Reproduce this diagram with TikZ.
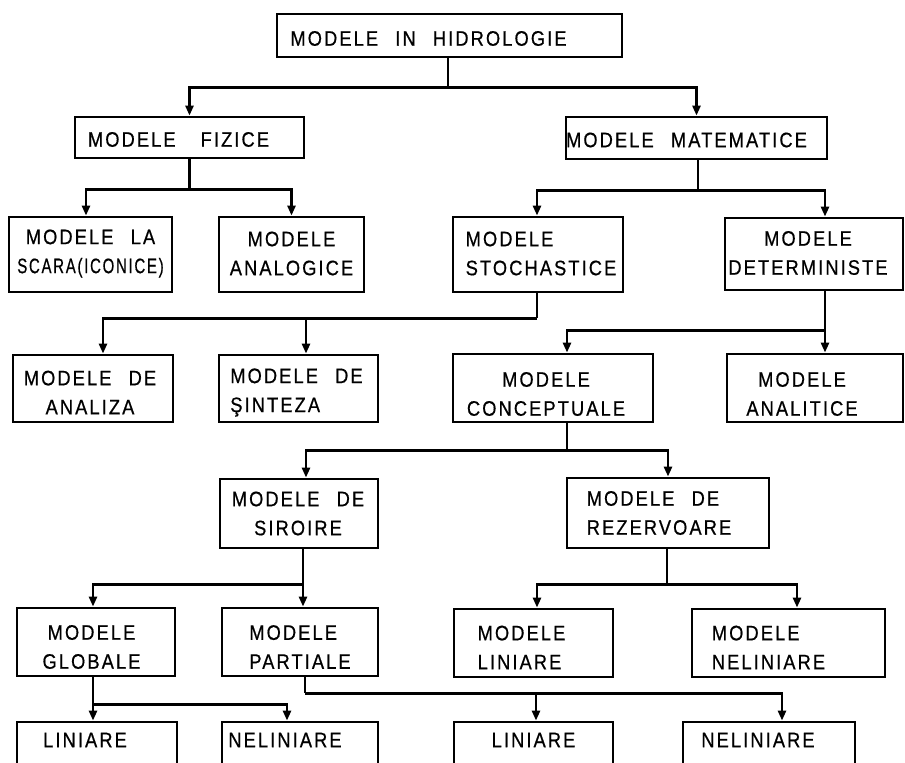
\documentclass[tikz,border=0pt]{standalone}
\usepackage{fontspec}
\setmainfont[WordSpace=2.4,FakeBold=0.6,FakeStretch=0.87,LetterSpace=10]{Liberation Sans}
\usetikzlibrary{arrows.meta,calc}
\tikzset{
  boxnode/.style={draw, line width=2.8pt, inner sep=0pt},
  lbl/.style={font=\fontsize{21}{29}\selectfont, align=center, inner sep=0pt},
  wire/.style={line width=2.8pt},
  arr/.style={wire, -{Triangle[length=10pt,width=8pt]}},
}
\begin{document}
\begin{tikzpicture}[x=1pt,y=-1pt]
\path[use as bounding box, clip] (0,0) rectangle (905,763);
\fill[white] (0,0) rectangle (905,763);

% boxes
\node[boxnode, minimum width=345pt, minimum height=43pt] (hid) at (449.5,35.5) {};
\node[boxnode, minimum width=229pt, minimum height=41pt] (fiz) at (189.5,137.5) {};
\node[boxnode, minimum width=261pt, minimum height=42pt] (mat) at (696.5,138) {};
\node[boxnode, minimum width=163pt, minimum height=75pt] (sca) at (90.5,254.5) {};
\node[boxnode, minimum width=145pt, minimum height=75pt] (ana) at (291.5,254.5) {};
\node[boxnode, minimum width=170pt, minimum height=75pt] (sto) at (538,254.5) {};
\node[boxnode, minimum width=178pt, minimum height=72pt] (det) at (814,254) {};
\node[boxnode, minimum width=160pt, minimum height=67pt] (anz) at (93,388.5) {};
\node[boxnode, minimum width=159pt, minimum height=67pt] (sin) at (298.5,388.5) {};
\node[boxnode, minimum width=200pt, minimum height=68pt] (con) at (553,388) {};
\node[boxnode, minimum width=176pt, minimum height=68pt] (anl) at (815,388) {};
\node[boxnode, minimum width=158pt, minimum height=69pt] (sir) at (299,513.5) {};
\node[boxnode, minimum width=202pt, minimum height=70pt] (rez) at (668,513) {};
\node[boxnode, minimum width=158pt, minimum height=68pt] (glo) at (96,642) {};
\node[boxnode, minimum width=156pt, minimum height=68pt] (par) at (300,642) {};
\node[boxnode, minimum width=159pt, minimum height=68pt] (mli) at (533.5,643) {};
\node[boxnode, minimum width=193pt, minimum height=68pt] (mnl) at (788.5,643) {};
\node[boxnode, minimum width=160pt, minimum height=68pt] (li1) at (97,756) {};
\node[boxnode, minimum width=156pt, minimum height=68pt] (nl1) at (300,756) {};
\node[boxnode, minimum width=159pt, minimum height=68pt] (li2) at (533.5,756) {};
\node[boxnode, minimum width=172pt, minimum height=68pt] (nl2) at (769,756) {};

% texts
\node[lbl] (hid-t) at ($(hid)+(-21,3)$) {MODELE IN HIDROLOGIE};
\node[lbl] (fiz-t) at ($(fiz)+(-11,2)$) {MODELE\hspace{25pt}FIZICE};
\node[lbl] (mat-t) at ($(mat)+(-10,2)$) {MODELE MATEMATICE};
\node[lbl] (sca-t) at ($(sca)+(0,-1)$) {MODELE LA\\\scalebox{0.82}[1]{SCARA(ICONICE)}};
\node[lbl] (ana-t) at ($(ana)+(0,-1)$) {MODELE\\ANALOGICE};
\node[lbl, align=left] (sto-t) at ($(sto)+(3,-1)$) {MODELE\\STOCHASTICE};
\node[lbl] (det-t) at ($(det)+(-6,-1)$) {MODELE\\DETERMINISTE};
\node[lbl] (anz-t) at ($(anz)+(-3,4)$) {MODELE DE\\ANALIZA};
\node[lbl, align=left] (sin-t) at ($(sin)+(-2,4)$) {MODELE DE\\ŞINTEZA};
\node[lbl] (con-t) at ($(con)+(-7,6)$) {MODELE\\CONCEPTUALE};
\node[lbl] (anl-t) at ($(anl)+(-13,6)$) {MODELE\\ANALITICE};
\node[lbl] (sir-t) at ($(sir)+(-1,0)$) {MODELE DE\\SIROIRE};
\node[lbl, align=left] (rez-t) at ($(rez)+(-9,0)$) {MODELE DE\\REZERVOARE};
\node[lbl] (glo-t) at ($(glo)+(-4.5,5)$) {MODELE\\GLOBALE};
\node[lbl, align=left] (par-t) at ($(par)+(0,5)$) {MODELE\\PARTIALE};
\node[lbl, align=left] (mli-t) at ($(mli)+(-12,4.5)$) {MODELE\\LINIARE};
\node[lbl, align=left] (mnl-t) at ($(mnl)+(-20,4.5)$) {MODELE\\NELINIARE};
\node[lbl] (li1-t) at ($(li1)+(-12,-16)$) {LINIARE};
\node[lbl] (nl1-t) at ($(nl1)+(-15,-16)$) {NELINIARE};
\node[lbl] (li2-t) at ($(li2)+(0,-16)$) {LINIARE};
\node[lbl] (nl2-t) at ($(nl2)+(-11,-16)$) {NELINIARE};

% stems
\draw[wire] ([xshift=-1.5pt]hid.south) -- ++(0,29) coordinate (j-hid);
\draw[wire] (fiz.south) -- ++(0,30) coordinate (j-fiz);
\draw[wire] ([xshift=1.5pt]mat.south) -- ++(0,30) coordinate (j-mat);
\draw[wire] ([xshift=-1pt]sto.south) -- ++(0,25) coordinate (j-sto);
\draw[wire] ([xshift=11pt]det.south) -- ++(0,39) coordinate (j-det);
\draw[wire] ([xshift=14pt]con.south) -- ++(0,27) coordinate (j-con);
\draw[wire] ([xshift=4pt]sir.south) -- ++(0,35) coordinate (j-sir);
\draw[wire] ([xshift=-1pt]rez.south) -- ++(0,35) coordinate (j-rez);
\draw[wire] ([xshift=-3pt]glo.south) -- ++(0,27) coordinate (j-glo);
\draw[wire] ([xshift=5pt]par.south) -- ++(0,16) coordinate (j-par);

% branches
\draw[arr] (j-hid) -| (fiz.north);
\draw[arr] (j-hid) -| (mat.north);
\draw[arr] (j-fiz) -| ([xshift=-4.5pt]sca.north);
\draw[arr] (j-fiz) -| (ana.north);
\draw[arr] (j-mat) -| ([xshift=-1pt]sto.north);
\draw[arr] (j-mat) -| ([xshift=11pt]det.north);
\draw[arr] (j-sto) -| ([xshift=10pt]anz.north);
\draw[arr] (j-sto) -| ([xshift=7.5pt]sin.north);
\draw[arr] (j-det) -| ([xshift=14pt]con.north);
\draw[arr] (j-det) -| ([xshift=10pt]anl.north);
\draw[arr] (j-con) -| ([xshift=7pt]sir.north);
\draw[arr] (j-con) -| (rez.north);
\draw[arr] (j-sir) -| ([xshift=-3pt]glo.north);
\draw[arr] (j-sir) -| ([xshift=3pt]par.north);
\draw[arr] (j-rez) -| ([xshift=3.5pt]mli.north);
\draw[arr] (j-rez) -| ([xshift=8.5pt]mnl.north);
\draw[arr] (j-glo) -| ([xshift=-4pt]li1.north);
\draw[arr] (j-glo) -| ([xshift=-13pt]nl1.north);
\draw[arr] (j-par) -| ([xshift=2.5pt]li2.north);
\draw[arr] (j-par) -| ([xshift=13pt]nl2.north);
\end{tikzpicture}
\end{document}
